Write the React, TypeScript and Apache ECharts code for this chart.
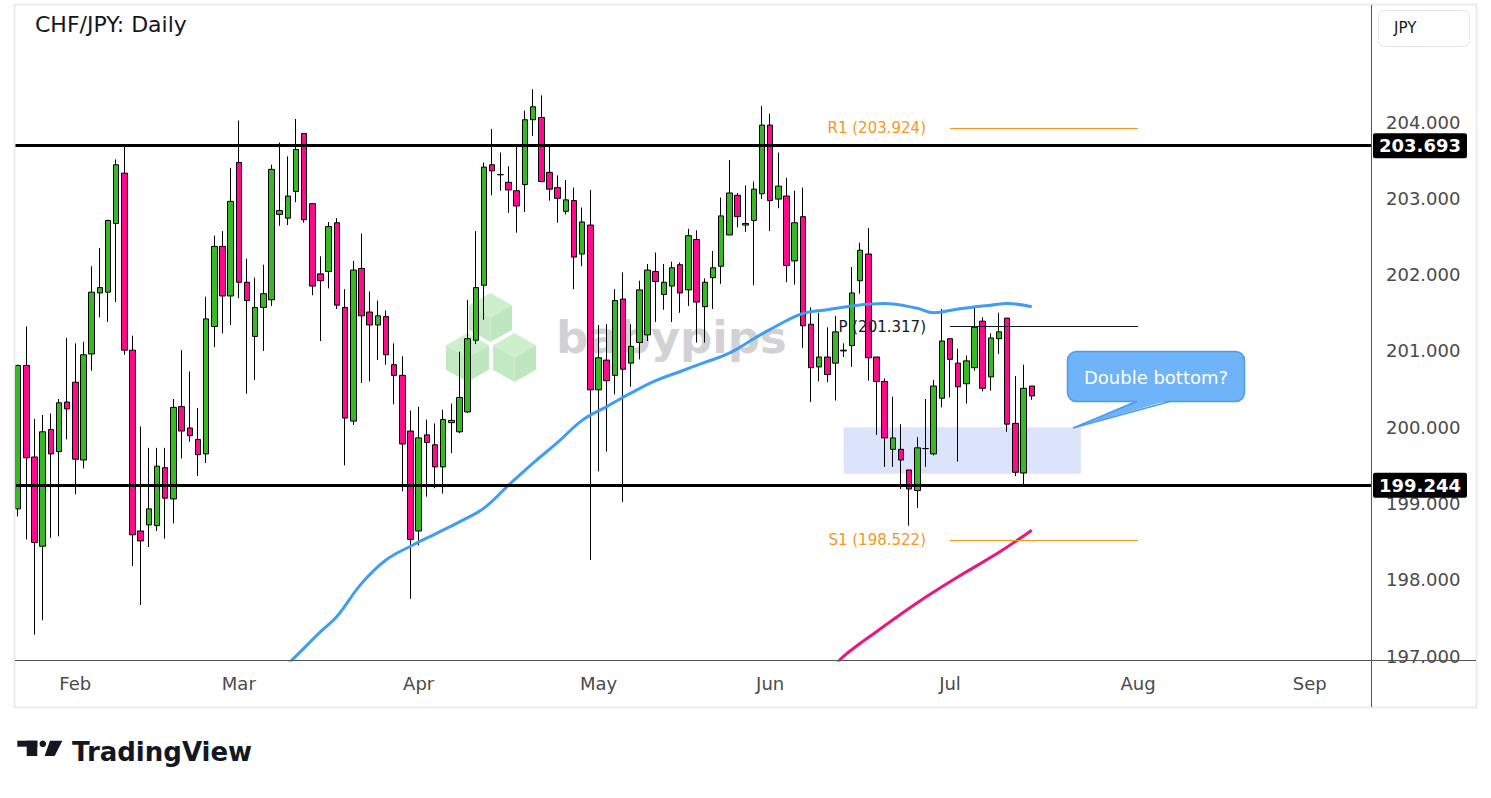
import React, { useEffect, useRef } from "react";
import * as echarts from "echarts";

// ---------- DATA ----------
const startDate = Date.UTC(2026, 0, 22);
const totalSlots = 166; // trading-day slots shown on the axis (incl. empty future space)

// [open, close, low, high]
const candles: number[][] = [
  [198.93, 200.81, 198.83, 200.82],
  [200.81, 199.6, 198.53, 201.32],
  [199.61, 198.49, 197.28, 200.11],
  [198.44, 199.94, 197.47, 200.16],
  [199.97, 199.65, 198.55, 200.18],
  [199.68, 200.32, 198.57, 200.37],
  [200.33, 200.24, 199.84, 201.17],
  [200.59, 199.58, 199.12, 201.1],
  [199.57, 200.95, 199.46, 201.12],
  [200.96, 201.77, 200.74, 202.11],
  [201.76, 201.83, 201.44, 202.35],
  [201.77, 202.71, 201.38, 202.72],
  [202.67, 203.44, 201.64, 203.51],
  [203.33, 201.01, 200.95, 203.68],
  [201.01, 198.59, 198.18, 201.2],
  [198.64, 198.51, 197.67, 200.01],
  [198.72, 198.93, 198.43, 199.73],
  [198.71, 199.49, 198.64, 199.73],
  [199.47, 199.07, 198.54, 199.73],
  [199.06, 200.26, 198.74, 200.37],
  [200.27, 199.95, 199.59, 201.01],
  [199.99, 199.89, 199.81, 200.73],
  [199.84, 199.64, 199.36, 200.25],
  [199.65, 201.42, 199.53, 201.71],
  [201.32, 202.37, 201.05, 202.51],
  [202.37, 201.72, 201.23, 202.57],
  [201.72, 202.96, 201.34, 203.4],
  [203.47, 201.9, 201.69, 204.02],
  [201.9, 201.66, 200.44, 202.21],
  [201.19, 201.57, 200.62, 201.96],
  [201.57, 201.75, 201.0, 202.13],
  [201.67, 203.38, 201.59, 203.44],
  [202.79, 202.84, 202.64, 203.73],
  [202.74, 203.03, 202.65, 203.55],
  [203.09, 203.64, 202.95, 204.04],
  [203.85, 202.72, 202.68, 203.85],
  [202.93, 201.85, 201.73, 202.93],
  [202.01, 201.92, 201.13, 202.24],
  [202.04, 202.63, 201.82, 202.69],
  [202.68, 201.6, 201.55, 202.74],
  [201.57, 200.12, 199.5, 201.81],
  [200.08, 202.06, 200.03, 202.18],
  [202.08, 201.46, 200.58, 202.54],
  [201.51, 201.34, 200.6, 201.78],
  [201.34, 201.46, 200.88, 201.66],
  [201.45, 200.95, 200.82, 201.53],
  [200.82, 200.68, 200.3, 201.1],
  [200.68, 199.78, 199.16, 200.93],
  [199.95, 198.53, 197.75, 200.22],
  [198.64, 199.86, 198.45, 200.27],
  [199.9, 199.8, 199.09, 200.1],
  [199.77, 199.48, 199.2, 200.05],
  [199.48, 200.1, 199.13, 200.23],
  [200.06, 200.09, 199.66, 200.31],
  [199.94, 200.39, 199.92, 200.99],
  [200.2, 201.16, 200.19, 201.67],
  [201.14, 201.83, 201.09, 202.57],
  [201.86, 203.41, 201.41, 203.47],
  [203.44, 203.36, 203.04, 203.91],
  [203.31, 203.31, 203.1, 203.6],
  [203.21, 203.11, 202.81, 203.42],
  [203.1, 202.9, 202.55, 203.68],
  [203.18, 204.03, 202.82, 204.15],
  [204.03, 204.2, 203.82, 204.43],
  [204.06, 203.22, 203.21, 204.35],
  [203.34, 203.12, 202.97, 203.68],
  [203.14, 203.0, 202.68, 203.3],
  [202.83, 202.98, 202.79, 203.24],
  [202.97, 202.23, 201.81, 203.14],
  [202.27, 202.69, 202.11, 202.88],
  [202.65, 200.49, 198.26, 203.11],
  [200.49, 200.91, 199.42, 201.34],
  [200.88, 200.61, 199.68, 201.35],
  [200.68, 201.66, 200.43, 201.81],
  [201.68, 200.76, 199.02, 202.03],
  [200.84, 201.06, 200.53, 201.35],
  [201.11, 201.8, 200.89, 201.92],
  [201.21, 202.06, 201.13, 202.14],
  [202.04, 201.91, 201.38, 202.29],
  [201.74, 201.9, 201.54, 202.14],
  [201.85, 202.09, 201.38, 202.17],
  [202.13, 201.76, 201.5, 202.16],
  [201.8, 202.51, 201.59, 202.6],
  [202.46, 201.64, 201.11, 202.58],
  [201.58, 201.9, 201.11, 201.95],
  [201.96, 202.09, 201.55, 202.31],
  [202.11, 202.77, 201.88, 203.01],
  [202.52, 203.07, 202.52, 203.5],
  [203.04, 202.76, 202.62, 203.07],
  [202.65, 202.67, 202.56, 203.17],
  [202.71, 203.12, 201.86, 203.22],
  [203.06, 203.96, 202.99, 204.21],
  [203.96, 202.97, 202.57, 204.11],
  [202.99, 203.16, 202.87, 203.6],
  [203.03, 202.12, 201.9, 203.27],
  [202.18, 202.68, 201.87, 203.1],
  [202.76, 201.33, 201.04, 203.14],
  [201.35, 200.78, 200.33, 201.57],
  [200.79, 200.92, 200.6, 201.5],
  [200.92, 200.69, 200.59, 201.31],
  [200.84, 201.25, 200.35, 201.46],
  [201.0, 201.01, 200.92, 201.1],
  [201.07, 201.76, 200.79, 202.1],
  [201.92, 202.32, 201.75, 202.42],
  [202.27, 200.91, 200.61, 202.61],
  [200.92, 200.6, 199.9, 200.92],
  [200.6, 199.86, 199.48, 200.64],
  [199.71, 199.86, 199.48, 200.4],
  [199.71, 199.57, 199.19, 200.04],
  [199.44, 199.19, 198.71, 199.44],
  [199.17, 199.73, 198.94, 199.87],
  [199.72, 199.72, 199.48, 200.37],
  [199.65, 200.54, 199.63, 200.62],
  [200.38, 201.13, 200.26, 201.55],
  [201.16, 200.89, 200.39, 201.16],
  [200.84, 200.53, 199.55, 201.03],
  [200.57, 200.87, 200.31, 200.94],
  [200.78, 201.31, 200.74, 201.59],
  [201.39, 200.51, 200.47, 201.44],
  [200.66, 201.17, 200.48, 201.23],
  [201.16, 201.25, 200.96, 201.5],
  [201.43, 200.04, 199.94, 201.43],
  [200.05, 199.41, 199.36, 200.67],
  [199.4, 200.51, 199.24, 200.82],
  [200.54, 200.41, 200.36, 200.54],
];

// moving averages: [slot index, value]
const maBlue: number[][] = [
  [32, 196.8], [34, 197.0], [37, 197.32], [39, 197.52], [42, 197.95], [45, 198.26],
  [48, 198.44], [51, 198.6], [54, 198.76], [57, 198.94], [60, 199.24], [63, 199.53],
  [66, 199.8], [69, 200.09], [72, 200.27], [75, 200.45], [78, 200.61], [81, 200.73],
  [84, 200.85], [87, 200.97], [90, 201.16], [93, 201.34], [96, 201.49], [99, 201.54],
  [102, 201.59], [106, 201.62], [110, 201.56], [112, 201.5], [115, 201.55], [119, 201.6],
  [121, 201.62], [124, 201.58],
];
const maPink: number[][] = [
  [100, 196.88], [101, 197.0], [105, 197.32], [110, 197.7], [115, 198.04], [120, 198.36], [124, 198.65],
];

const keyLevels = [203.693, 199.244];
const pivotLevels = [
  { name: "R1", value: 203.924, color: "#f5971f" },
  { name: "P", value: 201.317, color: "#131722" },
  { name: "S1", value: 198.522, color: "#f5971f" },
];
const pivotFrom = 114;
const pivotTo = 137;
const zoneFrom = 101;
const zoneTo = 130;
const zoneTop = 200.0;
const zoneBottom = 199.39;

const yTicks = [197, 198, 199, 200, 201, 202, 203, 204];
const yMin = 196.949;
const yMax = 205.534;
const monthNames = ["Jan", "Feb", "Mar", "Apr", "May", "Jun", "Jul", "Aug", "Sep", "Oct", "Nov", "Dec"];

// trading-day categories (weekdays)
const dates: string[] = (() => {
  const out: string[] = [];
  let t = startDate;
  while (out.length < totalSlots) {
    const d = new Date(t);
    const wd = d.getUTCDay();
    if (wd !== 0 && wd !== 6) out.push(d.toISOString().slice(0, 10));
    t += 86400000;
  }
  return out;
})();
const monthOf = (s: string) => Number(s.slice(5, 7)) - 1;

const FONT = "DejaVu Sans";

function hexCube(x0: number, y0: number) {
  const w = 43, h = 49;
  const top = [x0 + w / 2, y0];
  const ur = [x0 + w, y0 + h / 4];
  const lr = [x0 + w, y0 + (3 * h) / 4];
  const bot = [x0 + w / 2, y0 + h];
  const ll = [x0, y0 + (3 * h) / 4];
  const ul = [x0, y0 + h / 4];
  const c = [x0 + w / 2, y0 + h / 2];
  return [
    { type: "polygon", z: 0, silent: true, shape: { points: [top, ur, c, ul] }, style: { fill: "#cdefcb" } },
    { type: "polygon", z: 0, silent: true, shape: { points: [ul, c, bot, ll] }, style: { fill: "#c3e9c2" } },
    { type: "polygon", z: 0, silent: true, shape: { points: [c, ur, lr, bot] }, style: { fill: "#bfe6be" } },
  ];
}

export default function App() {
  const ref = useRef<HTMLDivElement>(null);
  useEffect(() => {
    if (!ref.current) return;
    const chart = echarts.init(ref.current, undefined, { renderer: "svg" });

    const markLineData: any[] = [];
    keyLevels.forEach((v) => {
      markLineData.push({
        yAxis: v,
        lineStyle: { color: "#000", width: 3, type: "solid" },
        label: {
          show: true,
          position: "end",
          distance: 2,
          formatter: v.toFixed(3),
          backgroundColor: "#000",
          color: "#fff",
          fontFamily: FONT,
          fontSize: 18,
          fontWeight: "bold",
          padding: [4, 6, 3, 6],
          borderRadius: 2,
        },
      });
    });
    pivotLevels.forEach((p) => {
      markLineData.push([
        {
          coord: [dates[pivotFrom], p.value],
          lineStyle: { color: p.color, width: 1, type: "solid" },
          label: {
            show: true,
            position: "start",
            distance: 24,
            formatter: `${p.name} (${p.value.toFixed(3)})`,
            color: p.color,
            fontFamily: FONT,
            fontSize: 15,
          },
        },
        { coord: [dates[pivotTo], p.value] },
      ]);
    });

    const option: any = {
      animation: false,
      backgroundColor: "#ffffff",
      textStyle: { fontFamily: FONT },
      title: {
        text: "CHF/JPY: Daily",
        left: 30,
        top: 8,
        textStyle: { fontFamily: FONT, fontSize: 22, fontWeight: "normal", color: "#131722" },
      },
      grid: { left: 14, top: 5, width: 1357, height: 655, containLabel: false },
      xAxis: {
        type: "category",
        data: dates,
        boundaryGap: true,
        axisLine: { show: false },
        axisTick: { show: false },
        splitLine: { show: false },
        axisLabel: {
          interval: (i: number) => i > 0 && monthOf(dates[i]) !== monthOf(dates[i - 1]),
          formatter: (v: string) => monthNames[monthOf(v)],
          color: "#4a4a4a",
          fontSize: 18,
          margin: 14,
          fontFamily: FONT,
        },
      },
      yAxis: {
        type: "value",
        position: "right",
        min: yMin,
        max: yMax,
        axisLine: { show: false },
        axisTick: { show: false },
        splitLine: { show: false },
        axisLabel: {
          customValues: yTicks,
          formatter: (v: number) => v.toFixed(3),
          color: "#4a4a4a",
          fontSize: 18,
          margin: 15,
          fontFamily: FONT,
        },
      },
      series: [
        {
          type: "candlestick",
          data: candles,
          barWidth: 6,
          itemStyle: {
            color: "#36b923",
            color0: "#ff0a8c",
            borderColor: "#000",
            borderColor0: "#000",
            borderColorDoji: "#000",
            borderWidth: 1,
          },
          markArea: {
            silent: true,
            itemStyle: { color: "#dce4fb" },
            data: [[{ coord: [dates[zoneFrom], zoneTop] }, { coord: [dates[zoneTo], zoneBottom] }]],
          },
          markLine: {
            silent: true,
            symbol: ["none", "none"],
            data: markLineData,
          },
        },
        {
          type: "line",
          data: maBlue.map(([i, v]) => [dates[i], v]),
          smooth: 0.4,
          showSymbol: false,
          lineStyle: { color: "#419df3", width: 3 },
          itemStyle: { color: "#419df3" },
          z: 3,
        },
        {
          type: "line",
          data: maPink.map(([i, v]) => [dates[i], v]),
          smooth: 0.4,
          showSymbol: false,
          lineStyle: { color: "#e9177e", width: 3 },
          itemStyle: { color: "#e9177e" },
          z: 3,
        },
      ],
      graphic: [
        // watermark
        ...hexCube(469, 293),
        ...hexCube(446, 333),
        ...hexCube(493, 333),
        {
          type: "text",
          z: 0,
          silent: true,
          x: 556,
          y: 337,
          style: {
            text: "babypips",
            fill: "#d2d2d5",
            fontFamily: FONT,
            fontWeight: "bold",
            fontSize: 45,
            verticalAlign: "middle",
          },
        },
        // frame
        {
          type: "rect",
          z: 50,
          silent: true,
          shape: { x: 14.5, y: 4.5, width: 1462, height: 703 },
          style: { fill: "none", stroke: "#ececec", lineWidth: 2 },
        },
        {
          type: "line",
          z: 50,
          silent: true,
          shape: { x1: 1371.5, y1: 5, x2: 1371.5, y2: 707 },
          style: { stroke: "#555", lineWidth: 1 },
        },
        {
          type: "line",
          z: 50,
          silent: true,
          shape: { x1: 15, y1: 660.5, x2: 1476, y2: 660.5 },
          style: { stroke: "#555", lineWidth: 1 },
        },
        // currency box
        {
          type: "rect",
          z: 50,
          shape: { x: 1378.5, y: 10.5, width: 91, height: 36, r: 6 },
          style: { fill: "#fff", stroke: "#e3e5ea", lineWidth: 1 },
        },
        {
          type: "text",
          z: 51,
          x: 1394,
          y: 28,
          style: { text: "JPY", fill: "#131722", fontFamily: FONT, fontSize: 15, verticalAlign: "middle" },
        },
        // callout
        {
          type: "rect",
          z: 60,
          shape: { x: 1067.5, y: 351.5, width: 177, height: 50, r: 9 },
          style: { fill: "#6fb3f8", stroke: "#4a9cf0", lineWidth: 1.5 },
        },
        {
          type: "polygon",
          z: 61,
          shape: { points: [[1137, 400], [1170, 400], [1073, 428]] },
          style: { fill: "#6fb3f8" },
        },
        {
          type: "polyline",
          z: 62,
          shape: { points: [[1137, 401.5], [1073, 428], [1170, 401.5]] },
          style: { fill: "none", stroke: "#4a9cf0", lineWidth: 1.5 },
        },
        {
          type: "text",
          z: 63,
          x: 1156,
          y: 377,
          style: {
            text: "Double bottom?",
            fill: "#ffffff",
            fontFamily: FONT,
            fontSize: 18,
            align: "center",
            verticalAlign: "middle",
          },
        },
        // TradingView logo
        { type: "rect", z: 50, shape: { x: 17.3, y: 740.7, width: 20, height: 6 }, style: { fill: "#131722" } },
        { type: "rect", z: 50, shape: { x: 26.7, y: 740.7, width: 10.6, height: 15.3 }, style: { fill: "#131722" } },
        { type: "circle", z: 50, shape: { cx: 42.8, cy: 743.8, r: 3.3 }, style: { fill: "#131722" } },
        {
          type: "polygon",
          z: 50,
          shape: { points: [[50, 740.7], [62.4, 740.7], [54.6, 756], [44.6, 756]] },
          style: { fill: "#131722" },
        },
        {
          type: "text",
          z: 50,
          x: 72,
          y: 752,
          style: {
            text: "TradingView",
            fill: "#131722",
            fontFamily: FONT,
            fontWeight: "bold",
            fontSize: 26,
            verticalAlign: "middle",
          },
        },
      ],
    };

    chart.setOption(option);
    return () => chart.dispose();
  }, []);

  return (
    <div
      ref={ref}
      style={{ position: "fixed", left: 0, top: 0, width: 1491, height: 798, background: "#fff" }}
    />
  );
}
